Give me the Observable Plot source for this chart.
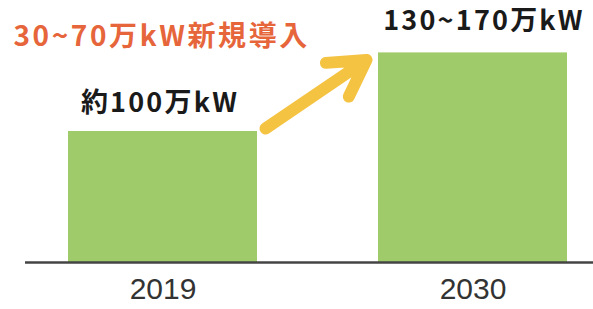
<!DOCTYPE html>
<html>
<head>
<meta charset="utf-8">
<script src="https://cdn.jsdelivr.net/npm/d3@7"></script>
<script src="https://cdn.jsdelivr.net/npm/@observablehq/plot@0.6"></script>
<style>
  html, body { margin: 0; padding: 0; background: #fff; }
  #chart svg { display: block; }
  #chart .lbl text { letter-spacing: 2.2px; }
  #chart .head text { letter-spacing: 2.6px; }
</style>
</head>
<body>
<div id="chart"></div>
<script>
const years = ["2019", "2030"];
const values = [100, 160];
const labels = ["約100万kW", "130~170万kW"];
const headline = "30~70万kW新規導入";

const data = years.map((year, i) => ({year, value: values[i], label: labels[i]}));
const arrowData = [{from: years[0], to: years[1], v0: values[0], v1: values[1]}];

const labelFont = "'Noto Sans CJK JP', 'Noto Sans', sans-serif";
const labelStyle = {fontSize: 27, fontWeight: 600, fill: "#1a1a1a", fontFamily: labelFont, className: "lbl"};

const chart = Plot.plot({
  width: 593,
  height: 309,
  marginLeft: 25,
  marginRight: 0,
  marginTop: 0,
  marginBottom: 47,
  style: {background: "#fff", fontFamily: "'Liberation Sans', Arial, sans-serif"},
  x: {domain: years, paddingInner: 0.39, paddingOuter: 0.111, align: 0.623, label: null},
  y: {domain: [0, 200], axis: null},
  marks: [
    Plot.barY(data, {x: "year", y: "value", fill: "#9fcb6a"}),
    Plot.ruleY([0], {stroke: "#444", strokeWidth: 2.5}),
    Plot.axisX({tickSize: 0, tickPadding: 15, fontSize: 30, fill: "#333", label: null}),
    Plot.text(data.slice(0, 1), {x: "year", y: "value", text: "label", dy: -28, dx: -3, ...labelStyle}),
    Plot.text(data.slice(1), {x: "year", y: "value", text: "label", dy: -32, dx: 11, ...labelStyle}),
    Plot.arrow(arrowData, {
      x1: "from", y1: "v0", x2: "to", y2: "v1",
      stroke: "#f5c342", strokeWidth: 12, headLength: 13, bend: 0,
      render(index, scales, values, dimensions, context, next) {
        const bw = scales.x.bandwidth();
        const X1 = Float64Array.from(values.x1, v => v + bw / 2 + 8);
        const X2 = Float64Array.from(values.x2, v => v - bw / 2 - 12);
        const Y1 = Float64Array.from(values.y1, v => v - 3);
        const Y2 = Float64Array.from(values.y2, v => v + 7);
        return next(index, scales, {...values, x1: X1, x2: X2, y1: Y1, y2: Y2}, dimensions, context);
      }
    }),
    Plot.text([headline], {
      text: d => d,
      frameAnchor: "top-left",
      dx: -12, dy: 26,
      textAnchor: "start",
      fontSize: 28, fontWeight: 600, fill: "#e6653b",
      fontFamily: labelFont, className: "head"
    })
  ]
});
document.getElementById("chart").append(chart);
</script>
</body>
</html>
